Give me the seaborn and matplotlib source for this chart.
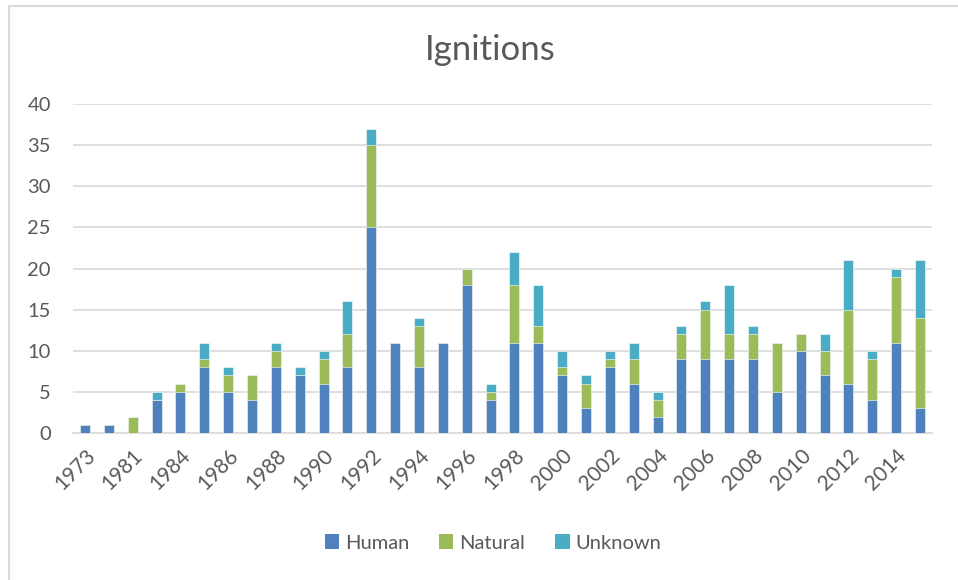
import matplotlib
matplotlib.use("Agg")
import matplotlib.pyplot as plt
from matplotlib.patches import Patch
from matplotlib.lines import Line2D
import numpy as np
import pandas as pd
import seaborn as sns

years = ["1973", "1980", "1981", "1983", "1984", "1985", "1986", "1987", "1988", "1989",
         "1990", "1991", "1992", "1993", "1994", "1995", "1996", "1997", "1998", "1999",
         "2000", "2001", "2002", "2003", "2004", "2005", "2006", "2007", "2008", "2009",
         "2010", "2011", "2012", "2013", "2014", "2015"]
human = [1, 1, 0, 4, 5, 8, 5, 4, 8, 7,
         6, 8, 25, 11, 8, 11, 18, 4, 11, 11,
         7, 3, 8, 6, 2, 9, 9, 9, 9, 5,
         10, 7, 6, 4, 11, 3]
natural = [0, 0, 2, 0, 1, 1, 2, 3, 2, 0,
           3, 4, 10, 0, 5, 0, 2, 1, 7, 2,
           1, 3, 1, 3, 2, 3, 6, 3, 3, 6,
           2, 3, 9, 5, 8, 11]
unknown = [0, 0, 0, 1, 0, 2, 1, 0, 1, 1,
           1, 4, 2, 0, 1, 0, 0, 1, 4, 5,
           2, 1, 1, 2, 1, 1, 1, 6, 1, 0,
           0, 2, 6, 1, 1, 7]
series_names = ["Human", "Natural", "Unknown"]
colors = ["#4F81BD", "#9BBB59", "#4BACC6"]

df = pd.DataFrame({"year": years, "Human": human, "Natural": natural, "Unknown": unknown})
df["hn"] = df["Human"] + df["Natural"]
df["total"] = df["hn"] + df["Unknown"]

sns.set_theme(style="white")
plt.rcParams["font.family"] = ["Lato", "DejaVu Sans"]

fig = plt.figure(figsize=(9.58, 5.80), dpi=100)
ax = fig.add_axes([73/958, 1-433/580, 859/958, (433-104)/580])

bw = 0.42
for col, c in [("total", colors[2]), ("hn", colors[1]), ("Human", colors[0])]:
    sns.barplot(data=df, x="year", y=col, order=years, color=c, saturation=1,
                width=bw, ax=ax, edgecolor="#FFFFFF", linewidth=0.4, zorder=3)

ax.set_ylim(0, 40)
ax.set_xlim(-0.5, len(years) - 0.5)
ax.set_yticks(range(0, 41, 5))
ax.set_yticklabels([str(v) for v in range(0, 41, 5)], fontsize=14.5, color="#595959")
ax.yaxis.grid(True, color="#D9D9D9", linewidth=1.2, zorder=0)
ax.set_axisbelow(True)
ax.tick_params(axis="y", length=0, pad=16)
ax.tick_params(axis="x", length=0, pad=9)

idx = list(range(0, len(years), 2))
ax.set_xticks(idx)
ax.set_xticklabels([years[i] for i in idx], rotation=45, ha="right",
                   rotation_mode="anchor", fontsize=15, color="#595959")
ax.set_xlabel("")
ax.set_ylabel("")
for s in ["top", "right", "left"]:
    ax.spines[s].set_visible(False)
ax.spines["bottom"].set_color("#D9D9D9")
ax.spines["bottom"].set_linewidth(1.2)

fig.text(490/958, 1-50/580, "Ignitions", ha="center", va="center",
         fontsize=25, color="#595959", fontweight="normal")

handles = [Patch(facecolor=c, edgecolor="none") for c in colors]
fig.legend(handles, series_names, loc="center", bbox_to_anchor=(493/958, 1-543/580),
           ncol=3, frameon=False, fontsize=14.5, handlelength=0.7, handleheight=0.7,
           handletextpad=0.3, columnspacing=1.5, labelcolor="#595959")

# chart border
fig.add_artist(Line2D([9/958, 9/958], [0, 1-6/580], color="#D9D9D9", linewidth=1.5))
fig.add_artist(Line2D([9/958, 1], [1-6/580, 1-6/580], color="#D9D9D9", linewidth=1.5))

fig.savefig("out.png", dpi=100, facecolor="white")
